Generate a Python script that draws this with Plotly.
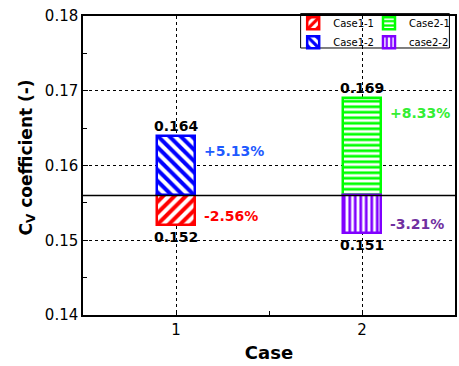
import plotly.graph_objects as go

baseline = 0.156
cases = [1, 2]
series_names = ["Case1-1", "Case1-2", "Case2-1", "case2-2"]
series_case = [1, 1, 2, 2]
series_values = [0.152, 0.164, 0.169, 0.151]
pct_labels = ["-2.56%", "+5.13%", "+8.33%", "-3.21%"]
bar_colors = ["#ff0000", "#0000ff", "#00ff00", "#8000ff"]
text_colors = ["#ff0000", "#1e5aff", "#33ee33", "#7030a0"]
shapes_pat = ["/", "\\", "-", "|"]
pat_sizes = [8, 8, 5.5, 5.5]
legend_ids = ["legend", "legend", "legend2", "legend2"]
y_ticks = [0.14, 0.15, 0.16, 0.17, 0.18]

FONT = "DejaVu Sans"
bar_w = 0.2

fig = go.Figure()
for i, name in enumerate(series_names):
    fig.add_trace(go.Bar(
        x=[series_case[i]], y=[series_values[i] - baseline], base=baseline,
        name=name, width=bar_w, legend=legend_ids[i],
        marker=dict(color="white",
                    line=dict(color=bar_colors[i], width=2.5),
                    pattern=dict(shape=shapes_pat[i], fgcolor=bar_colors[i],
                                 bgcolor="white", size=pat_sizes[i],
                                 solidity=0.5, fgopacity=1, fillmode="overlay")),
    ))

annotations = []
for i, v in enumerate(series_values):
    up = v > baseline
    annotations.append(dict(
        x=series_case[i], y=v, xref="x", yref="y", text=f"<b>{v:.3f}</b>",
        showarrow=False, xanchor="center",
        yanchor="bottom" if up else "top", yshift=0 if up else -2,
        font=dict(family=FONT, size=14, color="black")))
    annotations.append(dict(
        x=series_case[i] + bar_w / 2, y=v, xref="x", yref="y",
        text=f"<b>{pct_labels[i]}</b>", showarrow=False,
        xanchor="left", yanchor="middle", xshift=7,
        yshift=-15 if up else 9,
        font=dict(family=FONT, size=14, color=text_colors[i])))

fig.update_layout(
    width=459, height=366,
    margin=dict(l=83, r=4, t=16, b=51),
    plot_bgcolor="white", paper_bgcolor="white",
    font=dict(family=FONT, size=15, color="black"),
    barmode="overlay",
    annotations=annotations,
    legend=dict(x=0.565, y=1.024, xanchor="left", yanchor="top",
                font=dict(family=FONT, size=10), bgcolor="rgba(0,0,0,0)",
                tracegroupgap=0, itemwidth=30, borderwidth=0),
    legend2=dict(x=1.0, y=1.024, xanchor="right", yanchor="top",
                 font=dict(family=FONT, size=10), bgcolor="rgba(0,0,0,0)",
                 tracegroupgap=0, itemwidth=30, borderwidth=0),
    shapes=[
        dict(type="line", xref="paper", yref="y", x0=0, x1=1,
             y0=baseline, y1=baseline, line=dict(color="black", width=1.5)),
        dict(type="rect", xref="paper", yref="paper", x0=0.585, x1=0.985,
             y0=0.893, y1=1.008, line=dict(color="black", width=1),
             fillcolor="white", layer="below"),
    ],
    bargap=0,
)

fig.update_xaxes(
    range=[0.5, 2.5], tickvals=cases, ticktext=[str(c) for c in cases],
    ticks="inside", ticklen=5, tickcolor="black",
    minor=dict(dtick=0.5, tick0=0.5, ticks="inside", ticklen=4, tickcolor="black", showgrid=False),
    showline=True, linecolor="black", linewidth=1.5, mirror=True,
    showgrid=True, gridcolor="black", griddash="dot", gridwidth=0.8,
    zeroline=False, automargin=False,
    title=dict(text="<b>Case</b>", font=dict(family=FONT, size=18), standoff=9),
    tickfont=dict(family=FONT, size=15),
)
fig.update_yaxes(
    range=[0.14, 0.18], tickvals=y_ticks, tickformat=".2f",
    ticks="inside", ticklen=5, tickcolor="black",
    minor=dict(dtick=0.005, tick0=0.14, ticks="inside", ticklen=4, tickcolor="black", showgrid=False),
    showline=True, linecolor="black", linewidth=1.5, mirror=True,
    showgrid=True, gridcolor="black", griddash="dot", gridwidth=0.8,
    zeroline=False, automargin=False,
    title=dict(text="&nbsp;&nbsp;&nbsp;<b>C<sub>V</sub> coefficient (-)</b>",
               font=dict(family=FONT, size=17), standoff=8),
    tickfont=dict(family=FONT, size=15),
)

fig.write_html("out.html", config={"displayModeBar": False},
               post_script="document.body.style.margin='0px';")
